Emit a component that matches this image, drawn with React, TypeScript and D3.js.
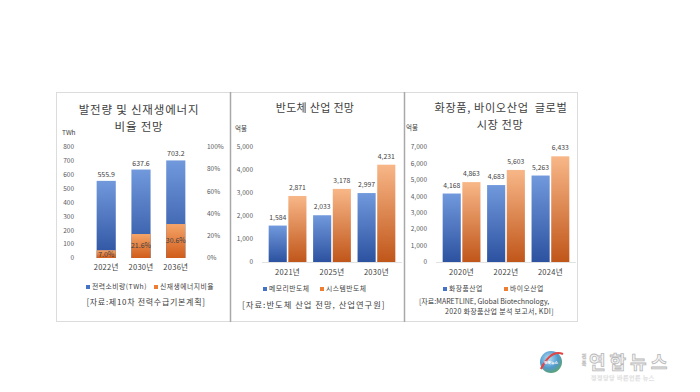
import * as d3 from "d3";

const energyYears = ["2022년", "2030년", "2036년"];
const energyTWh = [555.9, 637.6, 703.2];
const renewShare = [7.0, 21.6, 30.6];
const energyTicks = [0, 100, 200, 300, 400, 500, 600, 700, 800];
const shareTicks = [0, 20, 40, 60, 80, 100];

const semiYears = ["2021년", "2025년", "2030년"];
const memorySemi = [1584, 2033, 2997];
const systemSemi = [2871, 3178, 4231];
const semiTicks = [0, 1000, 2000, 3000, 4000, 5000];

const bioYears = ["2020년", "2022년", "2024년"];
const cosmetics = [4168, 4683, 5263];
const biotech = [4863, 5603, 6433];
const bioTicks = [0, 1000, 2000, 3000, 4000, 5000, 6000, 7000];

const FONT = "'Noto Sans CJK KR', 'Noto Sans', sans-serif";
const TXT = "#404040";
const fmt = d3.format(",");

function GroupedPanel({ years, a, b, ticks, left, right, top, bottom, legendA, legendB, legendAx, legendBx }) {
    const x = d3.scaleBand().domain(years).range([left, right]).padding(0.15);
    const xi = d3.scaleBand().domain(["a", "b"]).range([0, x.bandwidth()]).paddingInner(0.08);
    const y = d3.scaleLinear().domain([0, ticks[ticks.length - 1]]).range([bottom, top]);
    return (
        <g fontFamily={FONT}>
            {ticks.map(t => (
                <text key={t} x={left - 9} y={y(t)} dy="0.35em" textAnchor="end" fontSize={6.5} fill="#595959">{fmt(t)}</text>
            ))}
            <line x1={left} x2={right} y1={bottom + 0.5} y2={bottom + 0.5} stroke="#e2e2e2" />
            {years.map((yr, i) => (
                <g key={yr} transform={`translate(${x(yr)},0)`}>
                    <rect x={xi("a")} y={y(a[i])} width={xi.bandwidth()} height={bottom - y(a[i])} fill="url(#gBlue)" />
                    <rect x={xi("b")} y={y(b[i])} width={xi.bandwidth()} height={bottom - y(b[i])} fill="url(#gOrange)" />
                    <text x={xi("a") + xi.bandwidth() / 2} y={y(a[i]) - 6} textAnchor="middle" fontSize={6.8} fill={TXT}>{fmt(a[i])}</text>
                    <text x={xi("b") + xi.bandwidth() / 2} y={y(b[i]) - 6} textAnchor="middle" fontSize={6.8} fill={TXT}>{fmt(b[i])}</text>
                    <text x={x.bandwidth() / 2} y={bottom + 13} textAnchor="middle" fontSize={7.5} letterSpacing={0.3} fill={TXT}>{yr}</text>
                </g>
            ))}
            <rect x={legendAx} y={287} width={4} height={4} fill="#4472c4" />
            <text x={legendAx + 6} y={291} fontSize={6.8} letterSpacing={0.5} fill={TXT}>{legendA}</text>
            <rect x={legendBx} y={287} width={4} height={4} fill="#ed7d31" />
            <text x={legendBx + 6} y={291} fontSize={6.8} letterSpacing={0.5} fill={TXT}>{legendB}</text>
        </g>
    );
}

function EnergyPanel() {
    const top = 147, bottom = 258;
    const x = d3.scaleBand().domain(energyYears).range([81, 201]).padding(0.45);
    const y = d3.scaleLinear().domain([0, 800]).range([bottom, top]);
    const yp = d3.scaleLinear().domain([0, 100]).range([bottom, top]);
    return (
        <g fontFamily={FONT}>
            <text x={62} y={135} fontSize={6.5} fill={TXT}>TWh</text>
            {energyTicks.map(t => (
                <text key={t} x={74} y={y(t)} dy="0.35em" textAnchor="end" fontSize={6.5} fill="#595959">{t}</text>
            ))}
            {shareTicks.map(t => (
                <text key={t} x={207} y={yp(t)} dy="0.35em" fontSize={6.5} fill="#595959">{t}%</text>
            ))}
            {energyYears.map((yr, i) => (
                <g key={yr}>
                    <rect x={x(yr)} y={y(energyTWh[i])} width={x.bandwidth()} height={bottom - y(energyTWh[i])} fill="url(#gBlue)" />
                    <rect x={x(yr)} y={yp(renewShare[i])} width={x.bandwidth()} height={bottom - yp(renewShare[i])} fill="url(#gOrange2)" />
                    <text x={x(yr) + x.bandwidth() / 2} y={y(energyTWh[i]) - 4} textAnchor="middle" fontSize={7} fill={TXT}>{energyTWh[i].toFixed(1)}</text>
                    <text x={x(yr) + x.bandwidth() / 2} y={(yp(renewShare[i]) + bottom) / 2} dy="0.35em" textAnchor="middle" fontSize={7} fill={TXT}>{renewShare[i].toFixed(1)}%</text>
                    <text x={x(yr) + x.bandwidth() / 2} y={270} textAnchor="middle" fontSize={7.5} letterSpacing={0.3} fill={TXT}>{yr}</text>
                </g>
            ))}
            <rect x={86} y={285} width={4} height={4} fill="#4472c4" />
            <text x={92} y={289} fontSize={6.8} letterSpacing={0.5} fill={TXT}>전력소비량(TWh)</text>
            <rect x={154} y={285} width={4} height={4} fill="#ed7d31" />
            <text x={160} y={289} fontSize={6.8} letterSpacing={0.5} fill={TXT}>신재생에너지비율</text>
        </g>
    );
}

export default function App() {
    return (
        <svg width={700} height={392} style={{ position: "absolute", left: 0, top: 0, background: "#fff" }}>
            <defs>
                <linearGradient id="gBlue" x1="0" y1="0" x2="0" y2="1">
                    <stop offset="0%" stopColor="#7199dc" />
                    <stop offset="100%" stopColor="#2c52a0" />
                </linearGradient>
                <linearGradient id="gOrange" x1="0" y1="0" x2="0" y2="1">
                    <stop offset="0%" stopColor="#f8b788" />
                    <stop offset="100%" stopColor="#c0561a" />
                </linearGradient>
                <linearGradient id="gOrange2" x1="0" y1="0" x2="0" y2="1">
                    <stop offset="0%" stopColor="#f6a569" />
                    <stop offset="100%" stopColor="#d05c1a" />
                </linearGradient>
                <radialGradient id="globe" cx="0.4" cy="0.35" r="0.7">
                    <stop offset="0%" stopColor="#a9daf2" />
                    <stop offset="60%" stopColor="#3f8fc8" />
                    <stop offset="100%" stopColor="#4c9a5a" />
                </radialGradient>
            </defs>

            {/* panel frames */}
            <rect x={56.5} y={92.5} width={521} height={229} fill="#fff" stroke="#dcdcdc" />
            <line x1={230.5} x2={230.5} y1={92} y2={322} stroke="#a8a8a8" strokeWidth={1.5} />
            <line x1={404.5} x2={404.5} y1={92} y2={322} stroke="#a8a8a8" strokeWidth={1.5} />

            {/* titles */}
            <g fontFamily={FONT} fill={TXT} textAnchor="middle">
                <text x={139} y={114} fontSize={11.5} letterSpacing={0.8}>발전량 및 신재생에너지</text>
                <text x={139} y={131} fontSize={11.5} letterSpacing={0.8}>비율 전망</text>
                <text x={315} y={112} fontSize={11} letterSpacing={0.3}>반도체 산업 전망</text>
                <text x={501} y={112} fontSize={11.2} letterSpacing={0.6} style={{ whiteSpace: "pre" }}>화장품, 바이오산업  글로벌</text>
                <text x={500} y={129} fontSize={11.2} letterSpacing={0.6}>시장 전망</text>
            </g>

            <EnergyPanel />
            <text x={146} y={305} textAnchor="middle" fontFamily={FONT} fontSize={8} letterSpacing={0.7} fill={TXT}>[자료:제10차 전력수급기본계획]</text>

            <text x={235} y={131} fontFamily={FONT} fontSize={6.5} fill={TXT}>억불</text>
            <GroupedPanel years={semiYears} a={memorySemi} b={systemSemi} ticks={semiTicks}
                left={262} right={402} top={147} bottom={262}
                legendA="메모리반도체" legendB="시스템반도체" legendAx={263} legendBx={320} />
            <text x={242} y={308} fontFamily={FONT} fontSize={8.3} letterSpacing={1} style={{ whiteSpace: "pre" }} fill={TXT}>[자료:반도체 산업 전망, 산업연구원]</text>

            <text x={406} y={130} fontFamily={FONT} fontSize={6.5} fill={TXT}>억불</text>
            <GroupedPanel years={bioYears} a={cosmetics} b={biotech} ticks={bioTicks}
                left={436} right={576} top={147} bottom={262}
                legendA="화장품산업" legendB="바이오산업" legendAx={443} legendBx={504} />
            <text x={419} y={304} fontFamily={FONT} fontSize={7} fill={TXT}>[자료:MARETLINE, Global Biotechnology,</text>
            <text x={445} y={314} fontFamily={FONT} fontSize={7} letterSpacing={0.3} fill={TXT}>2020 화장품산업 분석 보고서, KDI]</text>

            {/* logo */}
            <g opacity={0.9}>
                <circle cx={551} cy={362} r={11} fill="url(#globe)" />
                <path d="M541,369 Q551,349 563,354" fill="none" stroke="#e03030" strokeWidth={2.2} />
                <text x={551} y={364} textAnchor="middle" fontFamily={FONT} fontSize={3.8} fontWeight={700} fill="#fff">전북뉴스</text>
                <text x={584} y={358} textAnchor="middle" fontFamily={FONT} fontSize={5} fontWeight={700} fill="#f2f2f2" stroke="#b5b5b5" strokeWidth={0.35}>전</text>
                <text x={584} y={364.5} textAnchor="middle" fontFamily={FONT} fontSize={5} fontWeight={700} fill="#f2f2f2" stroke="#b5b5b5" strokeWidth={0.35}>북</text>
                <text x={589} y={369} fontFamily={FONT} fontSize={18} fontWeight={700} fill="#f6f6f6" stroke="#b0b0b0" strokeWidth={0.8} letterSpacing={4}>연합뉴스</text>
                <text x={591} y={380} fontFamily={FONT} fontSize={6} letterSpacing={0.5} fill="#ececec" stroke="#d4d4d4" strokeWidth={0.25}>정정당당 바른언론 뉴스</text>
            </g>
        </svg>
    );
}
